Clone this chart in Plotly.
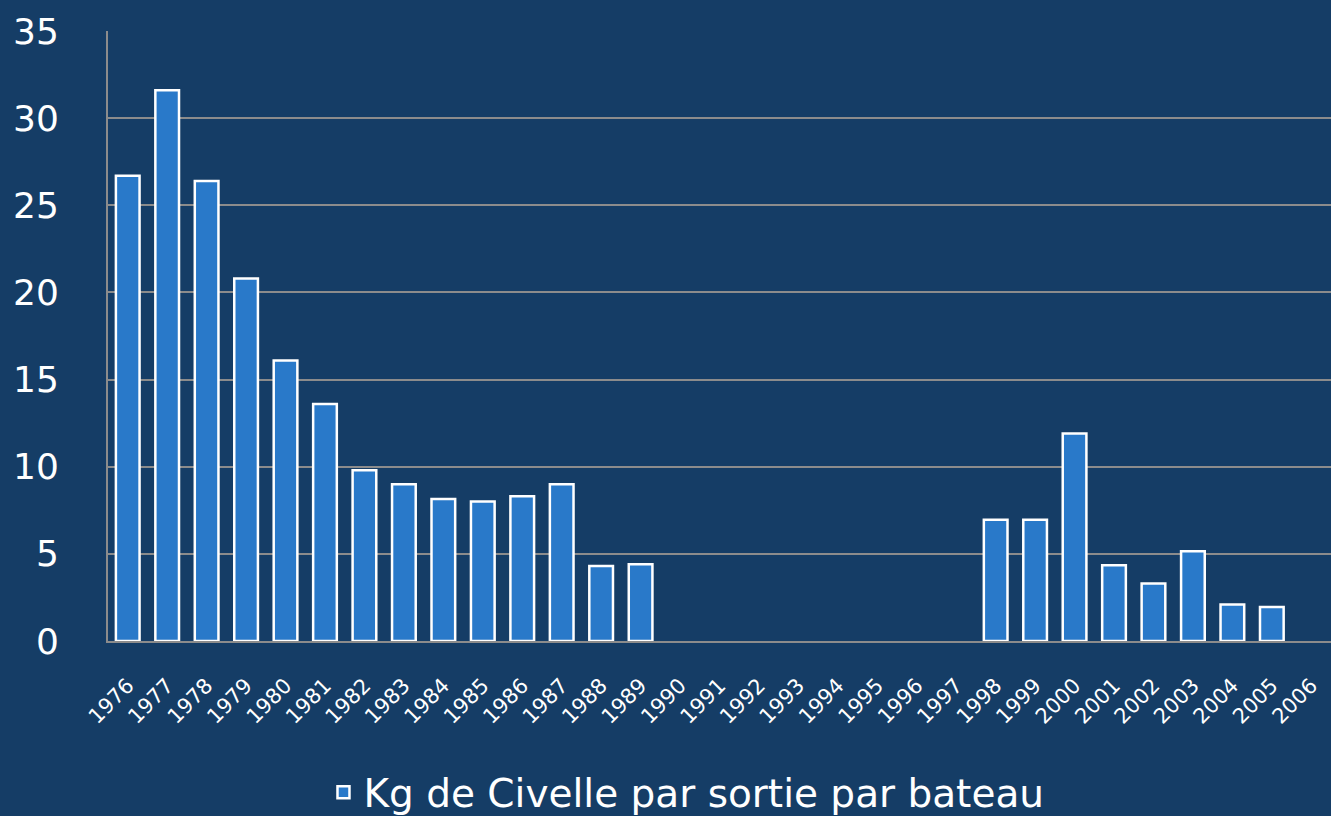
import plotly.graph_objects as go

years = [str(y) for y in range(1976, 2007)]
values = [26.7, 31.6, 26.4, 20.8, 16.1, 13.6, 9.8, 9.0, 8.15, 8.0, 8.3, 9.0, 4.3, 4.4,
          None, None, None, None, None, None, None, None,
          6.95, 6.95, 11.9, 4.35, 3.3, 5.15, 2.1, 1.95, None]
series_name = "Kg de Civelle par sortie par bateau"
y_ticks = [0, 5, 10, 15, 20, 25, 30, 35]

BG = "#153D66"
BAR = "#2979C9"
GRID = "#8C8C8C"

fig = go.Figure()
fig.add_trace(go.Bar(
    x=years, y=values, name=series_name,
    marker=dict(color=BAR, line=dict(color="white", width=2.5)),
    showlegend=True,
))

fig.update_layout(
    width=1331, height=816,
    paper_bgcolor=BG, plot_bgcolor=BG,
    margin=dict(l=108, r=0, t=31, b=175, autoexpand=False),
    bargap=0.4,
    font=dict(family="DejaVu Sans", color="white"),
    showlegend=True,
    legend=dict(orientation="h", x=0.473, xanchor="center", y=-0.248, yanchor="middle",
                font=dict(size=39, color="white", family="DejaVu Sans"),
                bgcolor="rgba(0,0,0,0)", itemwidth=30),
)
fig.update_xaxes(
    type="category", tickangle=-45, showgrid=False, automargin=False,
    showline=True, linecolor=GRID, linewidth=2,
    tickfont=dict(size=21, color="white", family="DejaVu Sans"),
    ticklabelstandoff=22, ticks="",
)
fig.update_yaxes(
    range=[0, 35], tickvals=y_ticks, showgrid=True, gridcolor=GRID, gridwidth=2,
    showline=True, linecolor=GRID, linewidth=2, zeroline=False, automargin=False,
    tickfont=dict(size=36, color="white", family="DejaVu Sans"),
    ticklabelstandoff=40, ticks="",
)

fig.write_html("out.html", config={"displayModeBar": False},
               post_script="document.body.style.margin='0';document.body.style.background='%s';" % BG)
